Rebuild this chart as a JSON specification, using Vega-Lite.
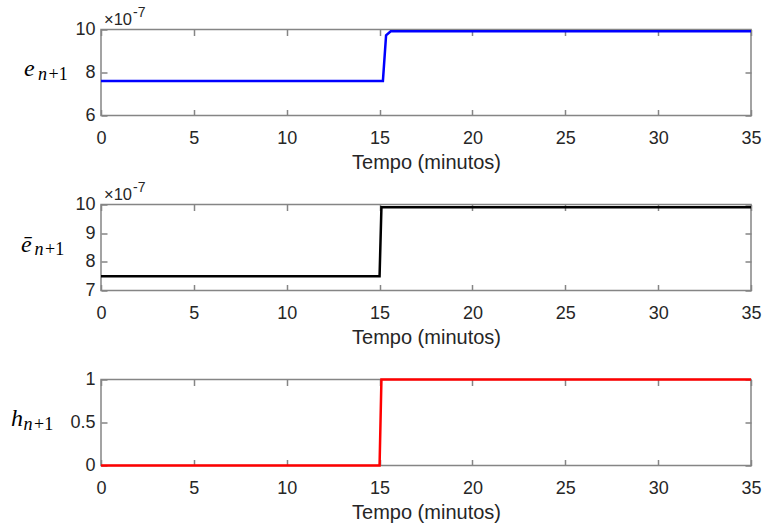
{
  "$schema": "https://vega.github.io/schema/vega-lite/v6.json",
  "background": "white",
  "padding": {"left": 10, "top": 4.5, "right": 5, "bottom": 0},
  "spacing": 89,
  "bounds": "flush",
  "datasets": {
    "e": [
      {"t": 0, "v": 7.61e-7},
      {"t": 15.18, "v": 7.61e-7},
      {"t": 15.35, "v": 9.73e-7},
      {"t": 15.6, "v": 9.92e-7},
      {"t": 35, "v": 9.92e-7}
    ],
    "ebar": [
      {"t": 0, "v": 7.5e-7},
      {"t": 15.0, "v": 7.5e-7},
      {"t": 15.1, "v": 9.9e-7},
      {"t": 35, "v": 9.9e-7}
    ],
    "h": [
      {"t": 0, "v": 0},
      {"t": 15.0, "v": 0},
      {"t": 15.1, "v": 1},
      {"t": 35, "v": 1}
    ],
    "one": [{}]
  },
  "config": {
    "view": {"stroke": "#858585", "strokeWidth": 1.5},
    "axis": {
      "domain": false, "grid": false, "labelFlush": false,
      "tickColor": "#858585", "tickWidth": 1.5, "tickSize": -6,
      "labelFont": "Liberation Sans", "labelFontSize": 18, "labelColor": "#262626",
      "titleFont": "Liberation Sans", "titleFontSize": 20, "titleFontWeight": "normal", "titleColor": "#262626"
    },
    "axisX": {"labelPadding": 20, "titlePadding": 5},
    "axisY": {"labelPadding": 12},
    "text": {"font": "Liberation Sans", "color": "#262626", "align": "left", "baseline": "alphabetic"}
  },
  "vconcat": [
    {
      "width": 650, "height": 86,
      "layer": [
        {
          "data": {"name": "e"},
          "mark": {"type": "line", "color": "#0000ff", "strokeWidth": 2.5},
          "encoding": {
            "x": {"field": "t", "type": "quantitative", "scale": {"domain": [0, 35], "nice": false},
                  "axis": {"values": [0, 5, 10, 15, 20, 25, 30, 35], "title": "Tempo (minutos)"}},
            "y": {"field": "v", "type": "quantitative", "scale": {"domain": [6e-7, 1e-6], "nice": false, "zero": false},
                  "axis": {"values": [6e-7, 8e-7, 1e-6], "labelExpr": "format(datum.value*1e7, '.0f')", "title": null}}
          }
        },
        {
          "data": {"name": "e"},
          "mark": {"type": "line", "strokeOpacity": 0},
          "encoding": {
            "x": {"field": "t", "type": "quantitative", "axis": {"orient": "top", "labels": false, "title": null, "values": [0, 5, 10, 15, 20, 25, 30, 35]}},
            "y": {"field": "v", "type": "quantitative", "axis": {"orient": "right", "labels": false, "title": null, "values": [6e-7, 8e-7, 1e-6]}}
          }
        },
        {
          "data": {"name": "one"},
          "mark": {"type": "text", "text": "×10", "fontSize": 16.5, "dx": 3, "dy": -4.5},
          "encoding": {"x": {"datum": 0, "axis": null}, "y": {"datum": 1e-6, "axis": null}}
        },
        {
          "data": {"name": "one"},
          "mark": {"type": "text", "text": "-7", "fontSize": 14, "dx": 32, "dy": -12.5},
          "encoding": {"x": {"datum": 0, "axis": null}, "y": {"datum": 1e-6, "axis": null}}
        },
        {
          "data": {"name": "one"},
          "mark": {"type": "text", "text": "e", "font": "Liberation Serif", "fontStyle": "italic", "fontSize": 24, "color": "#000000", "dx": -77, "dy": 3.5},
          "encoding": {"x": {"datum": 0, "axis": null}, "y": {"datum": 8e-7, "axis": null}}
        },
        {
          "data": {"name": "one"},
          "mark": {"type": "text", "text": "n", "font": "Liberation Serif", "fontStyle": "italic", "fontSize": 18, "color": "#000000", "dx": -63, "dy": 7.5},
          "encoding": {"x": {"datum": 0, "axis": null}, "y": {"datum": 8e-7, "axis": null}}
        },
        {
          "data": {"name": "one"},
          "mark": {"type": "text", "text": "+1", "font": "Liberation Serif", "fontSize": 18, "color": "#000000", "dx": -52.5, "dy": 7.5},
          "encoding": {"x": {"datum": 0, "axis": null}, "y": {"datum": 8e-7, "axis": null}}
        }
      ],
      "resolve": {"axis": {"x": "independent", "y": "independent"}}
    },
    {
      "width": 650, "height": 86,
      "layer": [
        {
          "data": {"name": "ebar"},
          "mark": {"type": "line", "color": "#000000", "strokeWidth": 2.5},
          "encoding": {
            "x": {"field": "t", "type": "quantitative", "scale": {"domain": [0, 35], "nice": false},
                  "axis": {"values": [0, 5, 10, 15, 20, 25, 30, 35], "title": "Tempo (minutos)"}},
            "y": {"field": "v", "type": "quantitative", "scale": {"domain": [7e-7, 1e-6], "nice": false, "zero": false},
                  "axis": {"values": [7e-7, 8e-7, 9e-7, 1e-6], "labelExpr": "format(datum.value*1e7, '.0f')", "title": null}}
          }
        },
        {
          "data": {"name": "ebar"},
          "mark": {"type": "line", "strokeOpacity": 0},
          "encoding": {
            "x": {"field": "t", "type": "quantitative", "axis": {"orient": "top", "labels": false, "title": null, "values": [0, 5, 10, 15, 20, 25, 30, 35]}},
            "y": {"field": "v", "type": "quantitative", "axis": {"orient": "right", "labels": false, "title": null, "values": [7e-7, 8e-7, 9e-7, 1e-6]}}
          }
        },
        {
          "data": {"name": "one"},
          "mark": {"type": "text", "text": "×10", "fontSize": 16.5, "dx": 3, "dy": -4.5},
          "encoding": {"x": {"datum": 0, "axis": null}, "y": {"datum": 1e-6, "axis": null}}
        },
        {
          "data": {"name": "one"},
          "mark": {"type": "text", "text": "-7", "fontSize": 14, "dx": 32, "dy": -12.5},
          "encoding": {"x": {"datum": 0, "axis": null}, "y": {"datum": 1e-6, "axis": null}}
        },
        {
          "data": {"name": "one"},
          "mark": {"type": "text", "text": "ē", "font": "Liberation Serif", "fontStyle": "italic", "fontSize": 24, "color": "#000000", "dx": -80, "dy": 4},
          "encoding": {"x": {"datum": 0, "axis": null}, "y": {"datum": 8.5e-7, "axis": null}}
        },
        {
          "data": {"name": "one"},
          "mark": {"type": "text", "text": "n", "font": "Liberation Serif", "fontStyle": "italic", "fontSize": 18, "color": "#000000", "dx": -66.5, "dy": 7.5},
          "encoding": {"x": {"datum": 0, "axis": null}, "y": {"datum": 8.5e-7, "axis": null}}
        },
        {
          "data": {"name": "one"},
          "mark": {"type": "text", "text": "+1", "font": "Liberation Serif", "fontSize": 18, "color": "#000000", "dx": -56, "dy": 7.5},
          "encoding": {"x": {"datum": 0, "axis": null}, "y": {"datum": 8.5e-7, "axis": null}}
        }
      ],
      "resolve": {"axis": {"x": "independent", "y": "independent"}}
    },
    {
      "width": 650, "height": 86,
      "layer": [
        {
          "data": {"name": "h"},
          "mark": {"type": "line", "color": "#ff0000", "strokeWidth": 2.5},
          "encoding": {
            "x": {"field": "t", "type": "quantitative", "scale": {"domain": [0, 35], "nice": false},
                  "axis": {"values": [0, 5, 10, 15, 20, 25, 30, 35], "title": "Tempo (minutos)"}},
            "y": {"field": "v", "type": "quantitative", "scale": {"domain": [0, 1], "nice": false},
                  "axis": {"values": [0, 0.5, 1], "format": "~g", "title": null}}
          }
        },
        {
          "data": {"name": "h"},
          "mark": {"type": "line", "strokeOpacity": 0},
          "encoding": {
            "x": {"field": "t", "type": "quantitative", "axis": {"orient": "top", "labels": false, "title": null, "values": [0, 5, 10, 15, 20, 25, 30, 35]}},
            "y": {"field": "v", "type": "quantitative", "axis": {"orient": "right", "labels": false, "title": null, "values": [0, 0.5, 1]}}
          }
        },
        {
          "data": {"name": "one"},
          "mark": {"type": "text", "text": "h", "font": "Liberation Serif", "fontStyle": "italic", "fontSize": 24, "color": "#000000", "dx": -90, "dy": 3.5},
          "encoding": {"x": {"datum": 0, "axis": null}, "y": {"datum": 0.5, "axis": null}}
        },
        {
          "data": {"name": "one"},
          "mark": {"type": "text", "text": "n", "font": "Liberation Serif", "fontStyle": "italic", "fontSize": 18, "color": "#000000", "dx": -77.5, "dy": 7.5},
          "encoding": {"x": {"datum": 0, "axis": null}, "y": {"datum": 0.5, "axis": null}}
        },
        {
          "data": {"name": "one"},
          "mark": {"type": "text", "text": "+1", "font": "Liberation Serif", "fontSize": 18, "color": "#000000", "dx": -67, "dy": 7.5},
          "encoding": {"x": {"datum": 0, "axis": null}, "y": {"datum": 0.5, "axis": null}}
        }
      ],
      "resolve": {"axis": {"x": "independent", "y": "independent"}}
    }
  ]
}
